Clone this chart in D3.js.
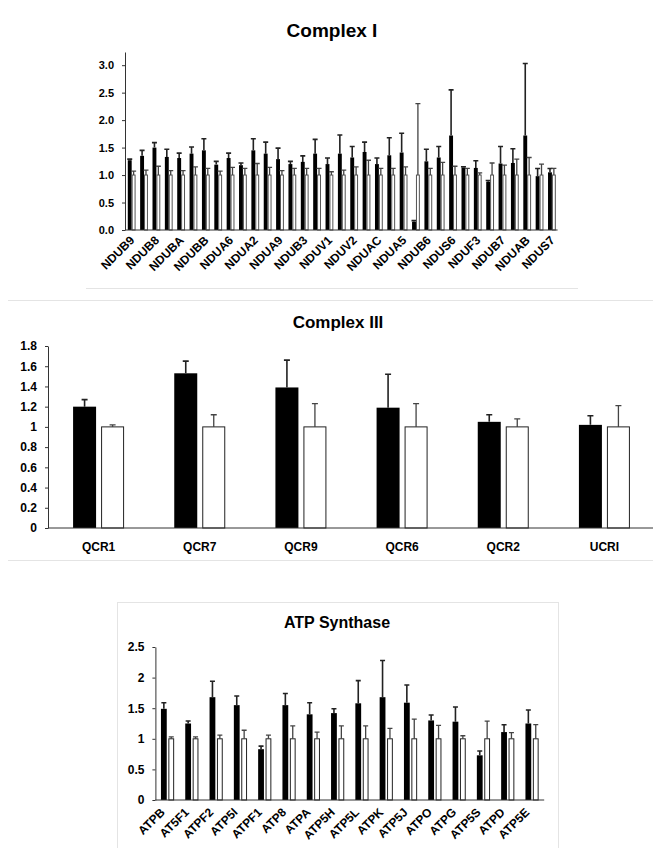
<!DOCTYPE html>
<html>
<head>
<script src="https://cdn.jsdelivr.net/npm/d3@7"></script>
<style>
body { margin: 0; background-color: white; }
svg { display: block; font-family: "Liberation Sans", Arial, sans-serif; }
text { font-weight: bold; fill: black; }
.frame { stroke: #e4e4e4; stroke-width: 1; }
</style>
</head>
<body>
<script>

// ---- Complex I (35 groups, every other one labelled) ----
var c1Labels = ["NDUB9", "NDUB8", "NDUBA", "NDUBB", "NDUA6", "NDUA2", "NDUA9", "NDUB3", "NDUV1",
	"NDUV2", "NDUAC", "NDUA5", "NDUB6", "NDUS6", "NDUF3", "NDUB7", "NDUAB", "NDUS7"];
var c1Treated = [1.27, 1.35, 1.50, 1.33, 1.31, 1.39, 1.45, 1.19, 1.31, 1.18, 1.45, 1.39, 1.29, 1.20, 1.24,
	1.39, 1.20, 1.39, 1.32, 1.42, 1.20, 1.36, 1.41, 0.15, 1.25, 1.32, 1.72, 1.14, 1.13, 0.88,
	1.21, 1.22, 1.72, 0.98, 1.05];
var c1TreatedSd = [0.02, 0.10, 0.09, 0.14, 0.09, 0.12, 0.21, 0.06, 0.09, 0.04, 0.21, 0.21, 0.20, 0.05, 0.11,
	0.26, 0.11, 0.34, 0.20, 0.18, 0.11, 0.32, 0.35, 0.02, 0.22, 0.20, 0.83, 0.01, 0.13, 0.02,
	0.31, 0.26, 1.31, 0.14, 0.07];
var c1Control = [1, 1, 1, 1, 1, 1, 1, 1, 1, 1, 1, 1, 1, 1, 1, 1, 1, 1, 1, 1, 1, 1, 1, 1, 1, 1, 1, 1, 1, 1,
	1, 1, 1, 1, 1];
var c1ControlSd = [0.07, 0.09, 0.16, 0.08, 0.08, 0.15, 0.12, 0.07, 0.14, 0.12, 0.21, 0.14, 0.08, 0.12, 0.12,
	0.12, 0.06, 0.09, 0.15, 0.27, 0.12, 0.12, 0.15, 1.30, 0.12, 0.23, 0.16, 0.12, 0.04, 0.22,
	0.18, 0.29, 0.32, 0.20, 0.12];
var c1Ticks = [0, 0.5, 1.0, 1.5, 2.0, 2.5, 3.0];

// ---- Complex III ----
var c3Categories = ["QCR1", "QCR7", "QCR9", "QCR6", "QCR2", "UCRI"];
var c3Treated = [1.20, 1.53, 1.39, 1.19, 1.05, 1.02];
var c3TreatedSd = [0.07, 0.12, 0.27, 0.33, 0.07, 0.09];
var c3Control = [1, 1, 1, 1, 1, 1];
var c3ControlSd = [0.02, 0.12, 0.23, 0.23, 0.08, 0.21];
var c3Ticks = [0, 0.2, 0.4, 0.6, 0.8, 1, 1.2, 1.4, 1.6, 1.8];

// ---- ATP synthase ----
var atpCategories = ["ATPB", "AT5F1", "ATPF2", "ATP5I", "ATPF1", "ATP8", "ATPA", "ATP5H",
	"ATP5L", "ATPK", "ATP5J", "ATPO", "ATPG", "ATP5S", "ATPD", "ATP5E"];
var atpTreated = [1.49, 1.25, 1.68, 1.55, 0.83, 1.55, 1.40, 1.42, 1.58, 1.68, 1.59, 1.30, 1.28, 0.73, 1.11, 1.25];
var atpTreatedSd = [0.10, 0.04, 0.26, 0.15, 0.05, 0.19, 0.19, 0.07, 0.37, 0.60, 0.29, 0.09, 0.24, 0.07, 0.12, 0.22];
var atpControl = [1, 1, 1, 1, 1, 1, 1, 1, 1, 1, 1, 1, 1, 1, 1, 1];
var atpControlSd = [0.03, 0.03, 0.06, 0.14, 0.06, 0.21, 0.11, 0.21, 0.21, 0.17, 0.32, 0.22, 0.05, 0.29, 0.10, 0.23];
var atpTicks = [0, 0.5, 1, 1.5, 2, 2.5];

var w = 653;
var h = 848;

var svg = d3.select("body").append("svg")
	.attr("width", w)
	.attr("height", h);

function rows(treated, tSd, control, cSd) {
	return treated.map(function(v, i) {
		return { i: i, v: v, sd: tSd[i], c: control[i], csd: cSd[i] };
	});
}

// draws paired bars (black = treated, white = control) with upper error bars
function drawBars(g, data, x, y, opt) {
	var y0 = y(0);
	function cx(d) { return x(d.i) + x.bandwidth() / 2 + opt.shift; }
	function errPath(xm, top, v) {
		var yt = y(top), yv = y(v), c = opt.cap / 2;
		return "M" + xm + "," + yv + "V" + yt + "M" + (xm - c) + "," + yt + "H" + (xm + c);
	}

	var grp = g.selectAll("g.grp").data(data).enter().append("g").attr("class", "grp");

	grp.append("rect")
		.attr("x", function(d) { return cx(d) - opt.gap / 2 - opt.bw; })
		.attr("y", function(d) { return y(d.v); })
		.attr("width", opt.bw)
		.attr("height", function(d) { return y0 - y(d.v); })
		.style("fill", "black");
	grp.append("path")
		.attr("d", function(d) { return errPath(cx(d) - opt.gap / 2 - opt.bw / 2, d.v + d.sd, d.v); })
		.style("fill", "none")
		.style("stroke", "#222")
		.style("stroke-width", opt.errW);

	grp.append("rect")
		.attr("x", function(d) { return cx(d) + opt.gap / 2 + 0.5; })
		.attr("y", function(d) { return y(d.c); })
		.attr("width", opt.bw - 1)
		.attr("height", function(d) { return y0 - y(d.c); })
		.style("fill", "white")
		.style("stroke", opt.whiteStroke)
		.style("stroke-width", 1);
	grp.append("path")
		.attr("d", function(d) { return errPath(cx(d) + opt.gap / 2 + opt.bw / 2, d.c + d.csd, d.c); })
		.style("fill", "none")
		.style("stroke", "#444")
		.style("stroke-width", opt.errW - 0.3);
}

function yAxis(g, y, ticks, fmt, size) {
	g.call(d3.axisLeft(y).tickValues(ticks).tickFormat(fmt).tickSize(3).tickSizeOuter(0).tickPadding(8));
	g.select(".domain").style("stroke", "#333");
	g.selectAll(".tick line").style("stroke", "#333");
	g.selectAll("text").style("font-size", size + "px").style("font-family", "'Liberation Sans', Arial, sans-serif");
}

function xLine(g, x, y) {
	g.append("line")
		.attr("x1", x.range()[0]).attr("x2", x.range()[1])
		.attr("y1", y(0)).attr("y2", y(0))
		.style("stroke", "#333");
}

function title(txt, cx, cy, size) {
	svg.append("text")
		.attr("x", cx).attr("y", cy)
		.attr("text-anchor", "middle")
		.style("font-size", size + "px")
		.text(txt);
}

// panel frames
svg.append("line").attr("class", "frame").attr("x1", 86).attr("x2", 578).attr("y1", 288.5).attr("y2", 288.5);
svg.append("line").attr("class", "frame").attr("x1", 8).attr("x2", w).attr("y1", 300.5).attr("y2", 300.5);
svg.append("line").attr("class", "frame").attr("x1", 8).attr("x2", w).attr("y1", 560.5).attr("y2", 560.5);
svg.append("line").attr("class", "frame").attr("x1", 117).attr("x2", 558).attr("y1", 602.5).attr("y2", 602.5);
svg.append("line").attr("class", "frame").attr("x1", 117.5).attr("x2", 117.5).attr("y1", 602).attr("y2", h);
svg.append("line").attr("class", "frame").attr("x1", 558.5).attr("x2", 558.5).attr("y1", 602).attr("y2", h);

// ---------- Complex I ----------
var x1 = d3.scaleBand().domain(c1Treated.map(function(d, i) { return i; })).range([125, 557.6]);
var y1 = d3.scaleLinear().domain([0, 3.24]).range([230, 52]);
var g1 = svg.append("g");
title("Complex I", 332, 37, 19);
yAxis(g1.append("g").attr("transform", "translate(125,0)"), y1, c1Ticks, d3.format(".1f"), 11);
drawBars(g1, rows(c1Treated, c1TreatedSd, c1Control, c1ControlSd), x1, y1,
	{ bw: 3.9, gap: 0, shift: 0.5, cap: 5, errW: 1.6, whiteStroke: "#555" });
xLine(g1, x1, y1);
g1.selectAll("text.xl").data(c1Labels).enter().append("text")
	.attr("class", "xl")
	.attr("transform", function(d, k) {
		return "translate(" + (x1(k * 2) + x1.bandwidth() / 2 + 4) + "," + 241 + ") rotate(-45)";
	})
	.attr("text-anchor", "end")
	.style("font-size", "12px")
	.text(function(d) { return d; });

// ---------- Complex III ----------
var x3 = d3.scaleBand().domain(c3Categories.map(function(d, i) { return i; })).range([48, 655]);
var y3 = d3.scaleLinear().domain([0, 1.8]).range([528, 346]);
var g3 = svg.append("g");
title("Complex III", 338, 328, 17);
yAxis(g3.append("g").attr("transform", "translate(48,0)"), y3, c3Ticks, function(d) { return String(+d.toFixed(1)); }, 12);
drawBars(g3, rows(c3Treated, c3TreatedSd, c3Control, c3ControlSd), x3, y3,
	{ bw: 23, gap: 5, shift: 0, cap: 6, errW: 1.6, whiteStroke: "#222" });
xLine(g3, x3, y3);
g3.selectAll("text.xl").data(c3Categories).enter().append("text")
	.attr("class", "xl")
	.attr("x", function(d, i) { return x3(i) + x3.bandwidth() / 2; })
	.attr("y", 551)
	.attr("text-anchor", "middle")
	.style("font-size", "12px")
	.text(function(d) { return d; });

// ---------- ATP synthase ----------
var xa = d3.scaleBand().domain(atpCategories.map(function(d, i) { return i; })).range([155.4, 544.2]);
var ya = d3.scaleLinear().domain([0, 2.5]).range([800, 647]);
var ga = svg.append("g");
title("ATP Synthase", 337, 628, 16);
yAxis(ga.append("g").attr("transform", "translate(155.4,0)"), ya, atpTicks, function(d) { return String(d); }, 12);
drawBars(ga, rows(atpTreated, atpTreatedSd, atpControl, atpControlSd), xa, ya,
	{ bw: 5.8, gap: 1.6, shift: 0, cap: 5, errW: 1.6, whiteStroke: "#222" });
xLine(ga, xa, ya);
ga.selectAll("text.xl").data(atpCategories).enter().append("text")
	.attr("class", "xl")
	.attr("transform", function(d, i) {
		return "translate(" + (xa(i) + xa.bandwidth() / 2 - 2) + "," + 813 + ") rotate(-45)";
	})
	.attr("text-anchor", "end")
	.style("font-size", "12px")
	.text(function(d) { return d; });

</script>
</body>
</html>
